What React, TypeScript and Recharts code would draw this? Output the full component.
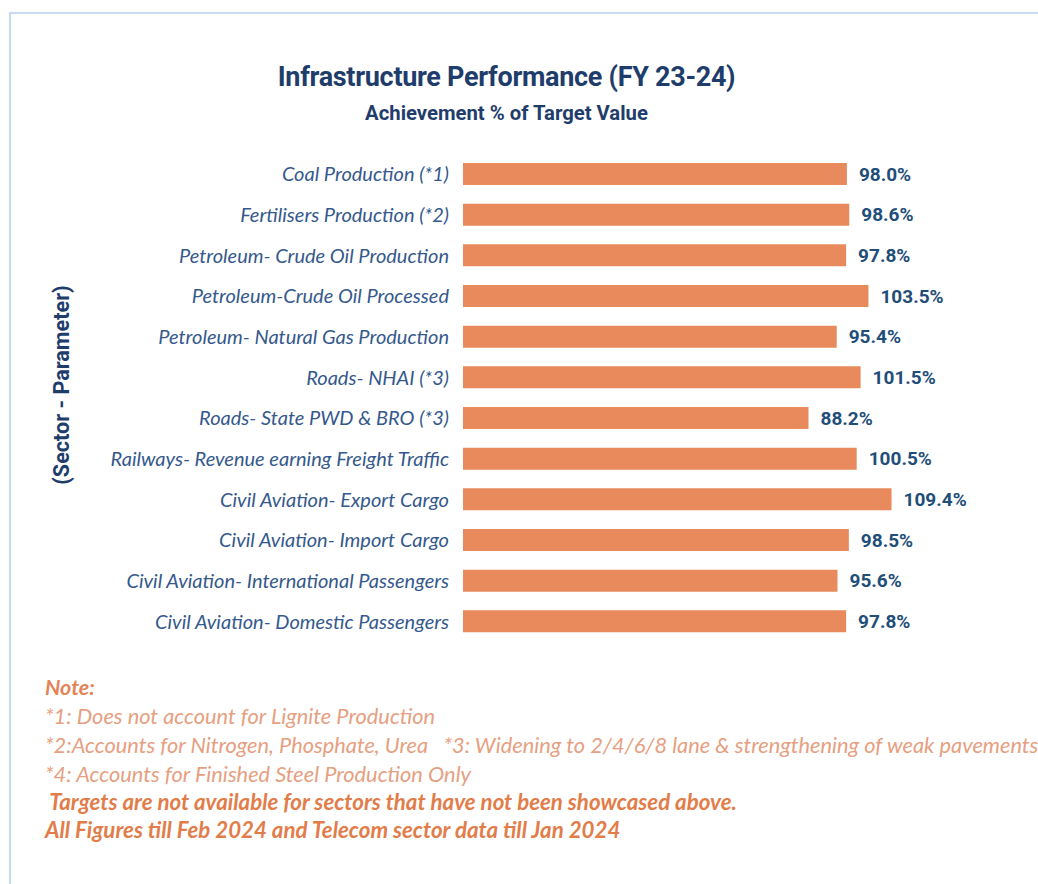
import { BarChart, Bar, XAxis, YAxis, LabelList } from "recharts";

// Achievement % of target, FY 23-24
const sectors = [
  "Coal Production (*1)",
  "Fertilisers Production (*2)",
  "Petroleum- Crude Oil Production",
  "Petroleum-Crude Oil Processed",
  "Petroleum- Natural Gas Production",
  "Roads- NHAI (*3)",
  "Roads- State PWD & BRO (*3)",
  "Railways- Revenue earning Freight Traffic",
  "Civil Aviation- Export Cargo",
  "Civil Aviation- Import Cargo",
  "Civil Aviation- International Passengers",
  "Civil Aviation- Domestic Passengers",
];
const achievement = [98.0, 98.6, 97.8, 103.5, 95.4, 101.5, 88.2, 100.5, 109.4, 98.5, 95.6, 97.8];

const notes = [
  "*1: Does not account for Lignite Production",
  "*2:Accounts for Nitrogen, Phosphate, Urea \u00a0\u00a0*3: Widening to 2/4/6/8 lane & strengthening of weak pavements",
  "*4: Accounts for Finished Steel Production Only",
];
const footers = [
  "\u00a0Targets are not available for sectors that have not been showcased above.",
  "All Figures till Feb 2024 and Telecom sector data till Jan 2024",
];

const data = sectors.map((name, i) => ({ name, value: achievement[i] }));

const NAVY = "#1f3d6b";
const noteFont = "Lato, 'Open Sans', sans-serif";

const App = () => {
  return (
    <div style={{ position: "absolute", left: 0, top: 0, width: 1038, height: 884, overflow: "hidden", background: "#fff" }}>
      <div style={{ position: "absolute", left: 9, top: 12, width: 1200, height: 1000, borderLeft: "2px solid #c8daf0", borderTop: "2px solid #c8daf0" }} />
      <div style={{ position: "absolute", left: 0, top: 61, width: 1013, textAlign: "center", fontFamily: "Roboto, sans-serif", fontWeight: 700, fontSize: 27, lineHeight: "32px", color: NAVY, letterSpacing: -0.3 }}>
        Infrastructure Performance (FY 23-24)
      </div>
      <div style={{ position: "absolute", left: 0, top: 101, width: 1013, textAlign: "center", fontFamily: "Roboto, sans-serif", fontWeight: 700, fontSize: 20.3, lineHeight: "24px", color: NAVY }}>
        Achievement % of Target Value
      </div>
      <div style={{ position: "absolute", left: -88, top: 371, width: 300, height: 28, lineHeight: "28px", textAlign: "center", transform: "rotate(-90deg)", fontFamily: "Roboto, sans-serif", fontWeight: 700, fontSize: 21.6, color: NAVY }}>
        (Sector - Parameter)
      </div>
      <div style={{ position: "absolute", left: 0, top: 0 }}>
        <BarChart width={1038} height={884} data={data} layout="vertical" margin={{ top: 154, right: 101, left: 43, bottom: 242 }}>
          <XAxis type="number" domain={[0, 121]} hide />
          <YAxis
            type="category"
            dataKey="name"
            width={420}
            axisLine={false}
            tickLine={false}
            tickMargin={8}
            interval={0}
            tick={{ fontSize: 20, fontStyle: "italic", fill: "#35598c", fontFamily: noteFont }}
          />
          <Bar dataKey="value" fill="#e98a5c" barSize={22} isAnimationActive={false}>
            <LabelList
              dataKey="value"
              position="right"
              offset={12}
              formatter={(v: number) => `${v.toFixed(1)}%`}
              style={{ fontSize: 19, fontWeight: 700, fill: "#1f4e79", fontFamily: "Roboto, sans-serif" }}
            />
          </Bar>
        </BarChart>
      </div>
      <div style={{ position: "absolute", left: 45, top: 674, whiteSpace: "nowrap", fontFamily: noteFont, fontStyle: "italic" }}>
        <div style={{ fontSize: 21.5, fontWeight: 700, color: "#e3845a", lineHeight: "27px" }}>Note:</div>
        {notes.map((n) => (
          <div key={n} style={{ fontSize: 21.8, color: "#e6a081", lineHeight: "29px" }}>{n}</div>
        ))}
        {footers.map((f) => (
          <div key={f} style={{ fontSize: 22.3, fontWeight: 700, color: "#e27d4a", lineHeight: "28px" }}>{f}</div>
        ))}
      </div>
    </div>
  );
};

export default App;
